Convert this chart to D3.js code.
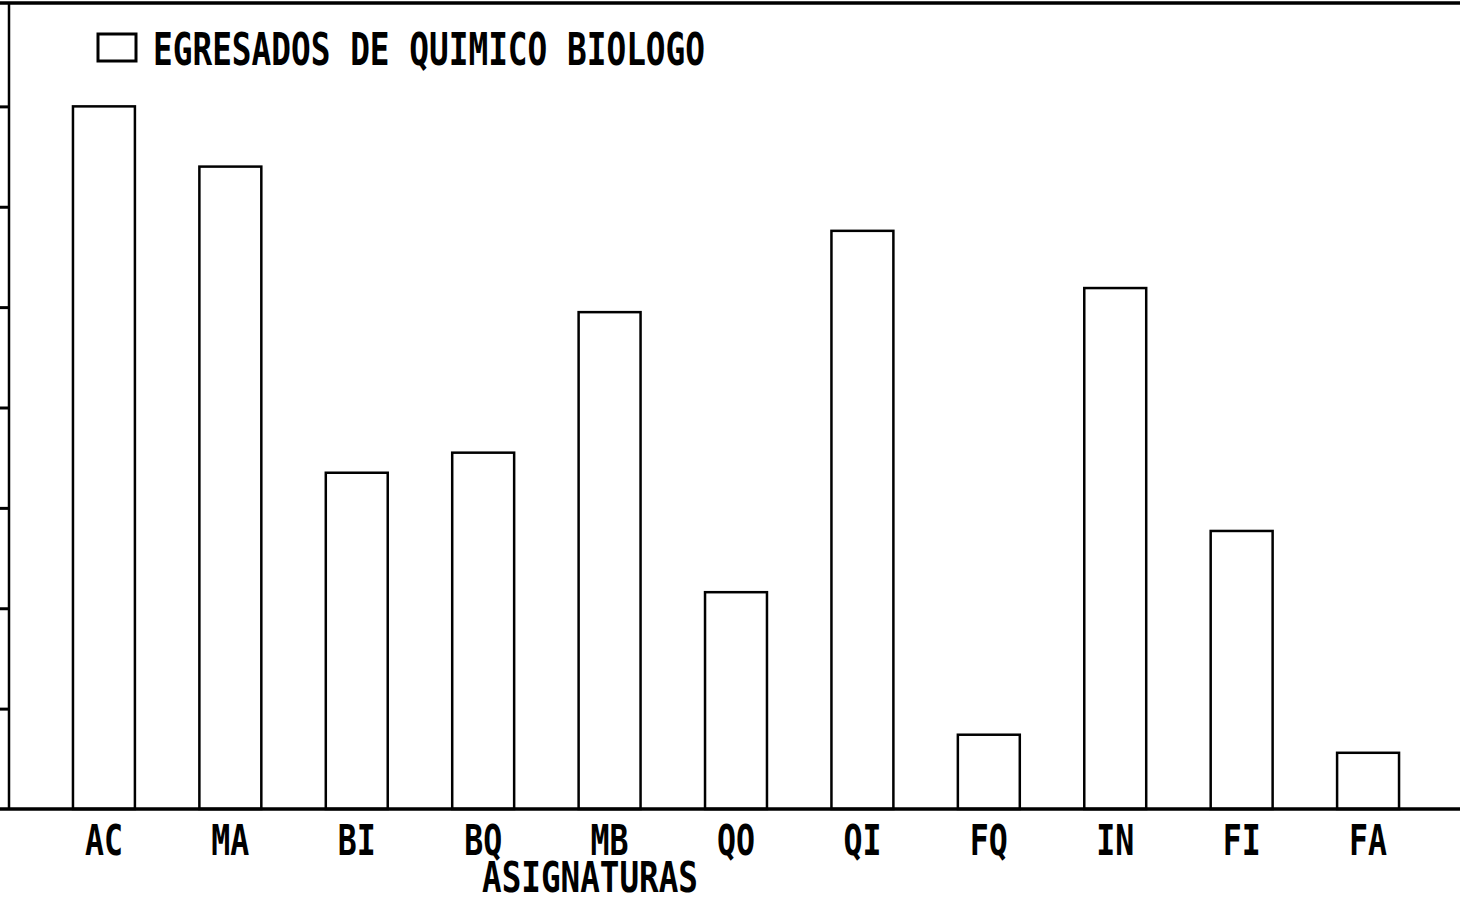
<!DOCTYPE html>
<html>
<head>
<meta charset="utf-8">
<script src="https://cdn.jsdelivr.net/npm/d3@7"></script>
<style>
  body { margin: 0; background: #fff; }
  svg { display: block; }
  text { font-family: "DejaVu Sans Mono", "Liberation Mono", monospace; font-weight: bold; fill: #000; }
</style>
</head>
<body>
<div id="chart"></div>
<script>
// data
var asignaturas = ["AC", "MA", "BI", "BQ", "MB", "QO", "QI", "FQ", "IN", "FI", "FA"];
var egresados = [70, 64, 33.5, 35.5, 49.5, 21.6, 57.6, 7.4, 51.9, 27.7, 5.6];
var yTicks = [10, 20, 30, 40, 50, 60, 70];
var serieNombre = "EGRESADOS DE QUIMICO BIOLOGO";
var ejeX = "ASIGNATURAS";

var width = 1460;
var height = 903;

// frame
var axisX = 9;
var baseY = 809;
var topY = 6;

var svg = d3.select("#chart")
  .append("svg")
  .attr("width", width)
  .attr("height", height);

var data = asignaturas.map(function(a, i) { return { name: a, value: egresados[i] }; });

var xScale = d3.scaleBand()
  .domain(asignaturas)
  .range([axisX, 1463])
  .paddingInner(0.51)
  .paddingOuter(0.506);

var yScale = d3.scaleLinear()
  .domain([0, 80])
  .range([baseY, topY]);

// bars (outlined, no fill)
svg.selectAll("rect.bar")
  .data(data)
  .enter()
  .append("rect")
  .attr("class", "bar")
  .attr("x", function(d) { return xScale(d.name); })
  .attr("y", function(d) { return yScale(d.value); })
  .attr("width", xScale.bandwidth())
  .attr("height", function(d) { return baseY - yScale(d.value); })
  .attr("fill", "none")
  .attr("stroke", "#000")
  .attr("stroke-width", 2.5);

// left axis with outside ticks
var yAxis = d3.axisLeft(yScale)
  .tickValues(yTicks)
  .tickSize(9)
  .tickFormat("");

var gy = svg.append("g")
  .attr("transform", "translate(" + axisX + ",0)")
  .call(yAxis);
gy.select(".domain").remove();
gy.selectAll(".tick line").attr("stroke", "#000").attr("stroke-width", 3);

svg.append("line")
  .attr("x1", axisX).attr("x2", axisX)
  .attr("y1", 2).attr("y2", baseY)
  .attr("stroke", "#000").attr("stroke-width", 2.5);

// top border
svg.append("line")
  .attr("x1", 0).attr("x2", width)
  .attr("y1", 3).attr("y2", 3)
  .attr("stroke", "#000").attr("stroke-width", 3.5);

// baseline
svg.append("line")
  .attr("x1", 0).attr("x2", width)
  .attr("y1", baseY).attr("y2", baseY)
  .attr("stroke", "#000").attr("stroke-width", 3.5);

// category labels
svg.selectAll("text.cat")
  .data(asignaturas)
  .enter()
  .append("text")
  .attr("class", "cat")
  .attr("x", function(d) { return xScale(d) + xScale.bandwidth() / 2; })
  .attr("y", 855)
  .attr("text-anchor", "middle")
  .attr("font-size", 42)
  .attr("textLength", 38)
  .attr("lengthAdjust", "spacingAndGlyphs")
  .text(function(d) { return d; });

// x axis title
svg.append("text")
  .attr("x", 482)
  .attr("y", 892)
  .attr("font-size", 42)
  .attr("textLength", 216)
  .attr("lengthAdjust", "spacingAndGlyphs")
  .text(ejeX);

// legend
svg.append("rect")
  .attr("x", 98).attr("y", 34)
  .attr("width", 38).attr("height", 27)
  .attr("fill", "none")
  .attr("stroke", "#000")
  .attr("stroke-width", 3);

svg.append("text")
  .attr("x", 153)
  .attr("y", 65)
  .attr("font-size", 44)
  .attr("textLength", 552)
  .attr("lengthAdjust", "spacingAndGlyphs")
  .text(serieNombre);
</script>
</body>
</html>
